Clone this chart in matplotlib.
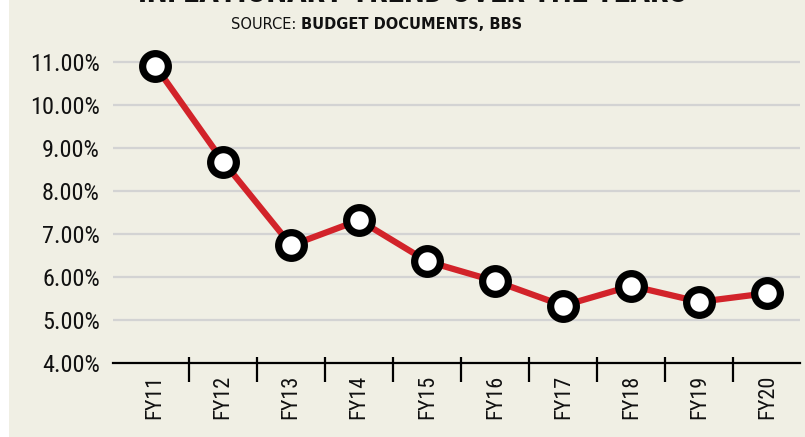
import matplotlib
matplotlib.use("Agg")
import matplotlib.pyplot as plt
import numpy as np
from matplotlib.patches import Rectangle
from matplotlib import font_manager as fm

categories = ["FY11", "FY12", "FY13", "FY14", "FY15", "FY16", "FY17", "FY18", "FY19", "FY20"]
inflation = [10.92, 8.69, 6.74, 7.33, 6.37, 5.91, 5.34, 5.80, 5.43, 5.63]
yticks = [4, 5, 6, 7, 8, 9, 10, 11]
ytick_labels = ["4.00%", "5.00%", "6.00%", "7.00%", "8.00%", "9.00%", "10.00%", "11.00%"]
title = "INFLATIONARY TREND OVER THE YEARS"
source_label = "SOURCE:"
source_text = "BUDGET DOCUMENTS, BBS"

CREAM = "#f0efe4"
RED = "#d2232a"
GRID = "#d3d3d3"


def pick_condensed(bold=False):
    prefs = ["Liberation Sans Narrow", "Roboto Condensed", "Open Sans Condensed",
             "Noto Sans Condensed", "DejaVu Sans"]
    cands = []
    for f in fm.fontManager.ttflist:
        fn = f.fname.lower()
        is_cond = ("condensed" in fn or "narrow" in fn or
                   str(f.stretch) in ("condensed", "semi-condensed", "extra-condensed"))
        if not is_cond or f.style != "normal":
            continue
        if "semi" in fn or "extra" in fn or "light" in fn or "thin" in fn or "medium" in fn or "black" in fn:
            continue
        w = f.weight if isinstance(f.weight, int) else (700 if "bold" in str(f.weight) else 400)
        if bold and w < 600:
            continue
        if not bold and w >= 600:
            continue
        rank = len(prefs)
        for i, p in enumerate(prefs):
            if f.name.lower().startswith(p.lower()):
                rank = i
                break
        cands.append((rank, f.fname))
    if cands:
        cands.sort()
        return fm.FontProperties(fname=cands[0][1])
    fp = fm.FontProperties(family="DejaVu Sans")
    if bold:
        fp.set_weight("bold")
    return fp


base = pick_condensed(False)
base_bold = pick_condensed(True)

W, H = 805, 437
fig = plt.figure(figsize=(W / 100, H / 100), dpi=100)
fig.patch.set_facecolor("white")
fig.patches.append(Rectangle((9 / W, 0), 1 - 9 / W, 1, transform=fig.transFigure,
                             facecolor=CREAM, edgecolor="none", zorder=-10))

ax = fig.add_axes([113 / W, 1 - 363.3 / H, 687 / W, (363.3 - 49.4) / H])
ax.set_facecolor("none")

x = np.arange(len(categories))
ax.plot(x, inflation, color=RED, lw=4.5, zorder=3, solid_capstyle="round")
ax.plot(x, inflation, linestyle="none", marker="o", ms=18.5, mfc="white",
        mec="black", mew=5.2, zorder=4)

ax.set_xlim(-0.62, 9.48)
ax.set_ylim(4, 11.3)

yfp = base.copy()
yfp.set_size(17.5)
xfp = base.copy()
xfp.set_size(16)

ax.set_yticks(yticks)
ax.set_yticklabels(ytick_labels, fontproperties=yfp, color="#111111")
ax.set_xticks(x)
ax.set_xticklabels(categories, fontproperties=xfp, rotation=90, color="#111111",
                   va="top")
ax.tick_params(axis="y", length=0, pad=9.5)
ax.tick_params(axis="x", length=0, pad=8.0)

for yv in yticks[1:]:
    ax.axhline(yv, color=GRID, lw=1.6, zorder=1)

for s in ["top", "right", "left"]:
    ax.spines[s].set_visible(False)
ax.spines["bottom"].set_linewidth(1.6)
ax.spines["bottom"].set_color("black")
ax.spines["bottom"].set_zorder(2)

bounds = np.arange(len(categories) - 1) + 0.5
ax.vlines(bounds, -0.061, 0.019, transform=ax.get_xaxis_transform(),
          colors="black", lw=1.6, clip_on=False)

tfp = base_bold.copy()
tfp.set_size(24)
fig.text(412 / W, 1 - 1.5 / H, title, ha="center", va="baseline",
         fontproperties=tfp, color="#111111")
fig.text(296 / W, 1 - 29 / H, source_label, ha="right", va="baseline", fontsize=10.5,
         family="DejaVu Sans", color="#111111")
fig.text(301 / W, 1 - 29 / H, source_text, ha="left", va="baseline", fontsize=10.5,
         fontweight="bold", family="DejaVu Sans", color="#111111")

fig.savefig("out.png", dpi=100, facecolor=fig.get_facecolor())
